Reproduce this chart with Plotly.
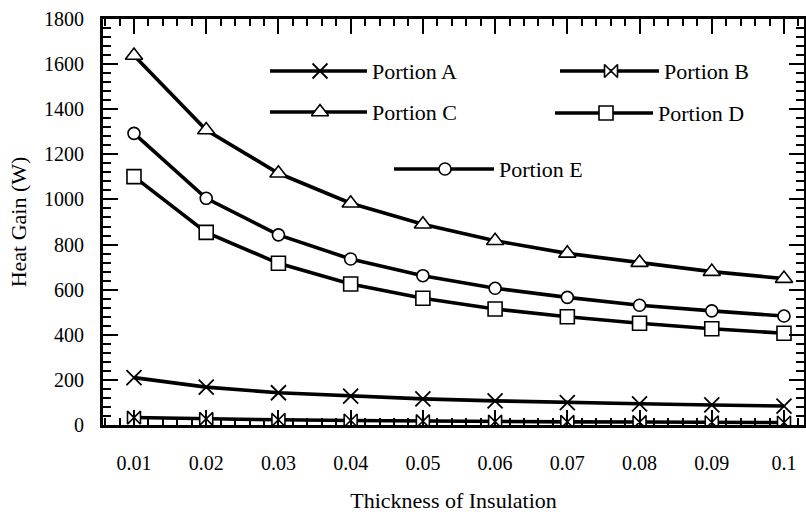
import plotly.graph_objects as go

thickness = [0.01, 0.02, 0.03, 0.04, 0.05, 0.06, 0.07, 0.08, 0.09, 0.1]
x_tick_labels = ["0.01", "0.02", "0.03", "0.04", "0.05", "0.06", "0.07", "0.08", "0.09", "0.1"]
y_tick_values = [0, 200, 400, 600, 800, 1000, 1200, 1400, 1600, 1800]
y_tick_labels = ["0", "200", "400", "600", "800", "1000", "1200", "1400", "1600", "1800"]

portion_a = [210, 168, 143, 128, 116, 107, 99, 94, 89, 84]
portion_b = [33, 27, 23, 20, 17, 15, 14, 13, 12, 11]
portion_c = [1638, 1308, 1116, 983, 890, 817, 761, 720, 680, 649]
portion_d = [1101, 854, 717, 625, 562, 514, 480, 451, 427, 407]
portion_e = [1293, 1005, 843, 736, 662, 606, 566, 531, 506, 483]

series_names = ["Portion A", "Portion B", "Portion C", "Portion D", "Portion E"]

FONT = "Liberation Serif, Times New Roman, serif"
W, H = 806, 514
L, R, T, B = 103, 2, 19, 89

styles = {
    "Portion A": dict(symbol="x-thin", size=15, color="black", line=dict(color="black", width=1.8)),
    "Portion B": dict(symbol="bowtie", size=13, color="white", line=dict(color="black", width=1.6)),
    "Portion C": dict(symbol="triangle-up", size=15, color="white", line=dict(color="black", width=1.6)),
    "Portion D": dict(symbol="square", size=14, color="white", line=dict(color="black", width=1.6)),
    "Portion E": dict(symbol="circle", size=12, color="white", line=dict(color="black", width=1.6)),
}
values = dict(zip(series_names, [portion_a, portion_b, portion_c, portion_d, portion_e]))

fig = go.Figure()
for name in series_names:
    fig.add_trace(go.Scatter(
        x=thickness, y=values[name], mode="lines+markers", name=name,
        line=dict(color="black", width=3.6), marker=styles[name],
        showlegend=False, xaxis="x", yaxis="y"))

# Hand-placed legend drawn on an overlay axis in pixel units
legend_items = [
    ("Portion A", 270, 367, 320, 71),
    ("Portion B", 560, 659, 611, 71),
    ("Portion C", 270, 367, 320, 112),
    ("Portion D", 555, 653, 606, 113),
    ("Portion E", 394, 494, 445, 169),
]
annotations = []
for name, x0, x1, xm, yy in legend_items:
    fig.add_trace(go.Scatter(x=[x0, x1], y=[yy, yy], mode="lines",
                             line=dict(color="black", width=3.6),
                             showlegend=False, xaxis="x2", yaxis="y2", hoverinfo="skip"))
    fig.add_trace(go.Scatter(x=[xm], y=[yy], mode="markers", marker=styles[name],
                             showlegend=False, xaxis="x2", yaxis="y2", hoverinfo="skip"))
    annotations.append(dict(x=x1 + 3, y=yy, xref="x2", yref="y2", text=name,
                            showarrow=False, xanchor="left", yanchor="middle",
                            font=dict(family=FONT, size=22, color="black")))

axis_common = dict(
    showgrid=False, zeroline=False, showline=True, linecolor="black", linewidth=3,
    mirror="allticks", ticks="inside", ticklen=15, tickwidth=2.2, tickcolor="black",
    tickfont=dict(family=FONT, size=20, color="black"),
)

fig.update_layout(
    width=W, height=H,
    margin=dict(l=L, r=R, t=T, b=B, autoexpand=False),
    paper_bgcolor="white", plot_bgcolor="white",
    font=dict(family=FONT, color="black"),
    showlegend=False,
    xaxis=dict(
        **axis_common,
        range=[0.00571, 0.10277],
        tickmode="array", tickvals=thickness, ticktext=x_tick_labels,
        ticklabelstandoff=18,
        minor=dict(ticks="inside", ticklen=7, tickwidth=1.5, tickcolor="black",
                   tickmode="linear", tick0=0.01, dtick=0.002),
        title=dict(text="Thickness of Insulation", standoff=20,
                   font=dict(family=FONT, size=22, color="black")),
    ),
    yaxis=dict(
        **axis_common,
        range=[0, 1800],
        tickmode="array", tickvals=y_tick_values, ticktext=y_tick_labels,
        ticklabelstandoff=12,
        minor=dict(ticks="inside", ticklen=8, tickwidth=1.5, tickcolor="black",
                   tickmode="linear", tick0=0, dtick=40),
        title=dict(text="Heat Gain (W)", standoff=12,
                   font=dict(family=FONT, size=22, color="black")),
    ),
    xaxis2=dict(overlaying="x", range=[L, W - R], visible=False, fixedrange=True),
    yaxis2=dict(overlaying="y", range=[H - B, T], visible=False, fixedrange=True),
    annotations=annotations,
)

fig.write_html(
    "out.html",
    config={"displayModeBar": False},
    post_script="document.body.style.margin='0';document.body.style.padding='0';",
)
